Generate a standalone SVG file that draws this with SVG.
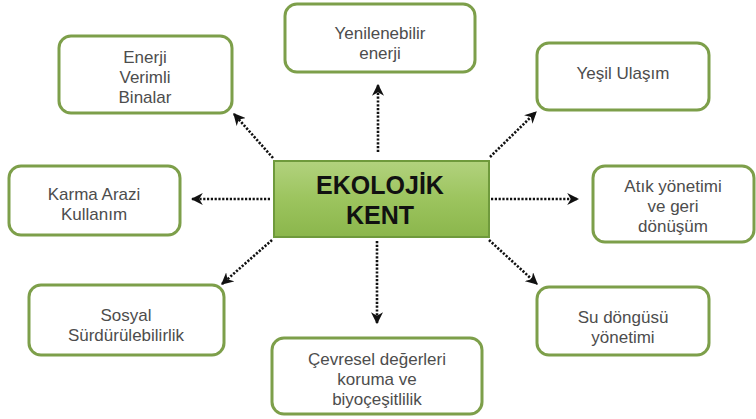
<svg xmlns="http://www.w3.org/2000/svg" width="756" height="419" viewBox="0 0 756 419">
<defs>
<linearGradient id="g" x1="0" y1="0" x2="0" y2="1">
<stop offset="0" stop-color="#b2d27e"/>
<stop offset="0.5" stop-color="#9cc45e"/>
<stop offset="1" stop-color="#8bb64c"/>
</linearGradient>
<marker id="ah" viewBox="0 0 10 10" refX="9" refY="5" markerWidth="12" markerHeight="12" markerUnits="userSpaceOnUse" orient="auto">
<path d="M0,0 L10,5 L0,10 L3,5 Z" fill="#111"/>
</marker>
</defs>
<style>
.box{fill:#fff;stroke:#7d9f4a;stroke-width:3}
.t{font-family:"Liberation Sans",Arial,sans-serif;font-size:17px;fill:#4d4d4d;text-anchor:middle}
.c{font-family:"Liberation Sans",Arial,sans-serif;font-size:25px;font-weight:bold;fill:#111;text-anchor:middle}
.ln{stroke:#111;stroke-width:2.6;stroke-dasharray:2.2 1.6;fill:none;marker-end:url(#ah)}
</style>
<rect width="756" height="419" fill="#fff"/>
<g id="connectors">
<line class="ln" x1="378" y1="152" x2="378" y2="85"/>
<line class="ln" x1="273" y1="158" x2="234" y2="114"/>
<line class="ln" x1="490" y1="157" x2="536" y2="112"/>
<line class="ln" x1="270" y1="199" x2="192" y2="199"/>
<line class="ln" x1="491" y1="199" x2="578" y2="199"/>
<line class="ln" x1="272" y1="240" x2="222" y2="284"/>
<line class="ln" x1="377" y1="241" x2="377" y2="323"/>
<line class="ln" x1="489" y1="240" x2="537" y2="284"/>
</g>
<g id="center">
<rect x="274" y="161" width="215" height="76" fill="url(#g)" stroke="#6f9a3c" stroke-width="2"/>
<text class="c" x="380" y="194">EKOLOJİK</text>
<text class="c" x="380" y="224">KENT</text>
</g>
<g id="yenilenebilir">
<rect class="box" x="285" y="4" width="190" height="68" rx="12"/>
<text class="t" x="380" y="39">Yenilenebilir</text>
<text class="t" x="380" y="59">enerji</text>
</g>
<g id="enerji">
<rect class="box" x="59" y="36" width="173" height="77" rx="12"/>
<text class="t" x="145" y="63">Enerji</text>
<text class="t" x="145" y="83">Verimli</text>
<text class="t" x="145" y="103">Binalar</text>
</g>
<g id="yesil">
<rect class="box" x="537" y="43" width="172" height="67" rx="12"/>
<text class="t" x="623" y="79">Yeşil Ulaşım</text>
</g>
<g id="karma">
<rect class="box" x="9" y="166" width="171" height="69" rx="12"/>
<text class="t" x="94" y="200">Karma Arazi</text>
<text class="t" x="94" y="220">Kullanım</text>
</g>
<g id="atik">
<rect class="box" x="593" y="166" width="161" height="76" rx="12"/>
<text class="t" x="673" y="192">Atık yönetimi</text>
<text class="t" x="673" y="212">ve geri</text>
<text class="t" x="673" y="232">dönüşüm</text>
</g>
<g id="sosyal">
<rect class="box" x="29" y="285" width="195" height="70" rx="12"/>
<text class="t" x="126" y="321">Sosyal</text>
<text class="t" x="126" y="341">Sürdürülebilirlik</text>
</g>
<g id="cevresel">
<rect class="box" x="272" y="338" width="210" height="76" rx="12"/>
<text class="t" x="377" y="365">Çevresel değerleri</text>
<text class="t" x="377" y="385">koruma ve</text>
<text class="t" x="377" y="405">biyoçeşitlilik</text>
</g>
<g id="su">
<rect class="box" x="537" y="287" width="172" height="68" rx="12"/>
<text class="t" x="623" y="323">Su döngüsü</text>
<text class="t" x="623" y="343">yönetimi</text>
</g>
</svg>
